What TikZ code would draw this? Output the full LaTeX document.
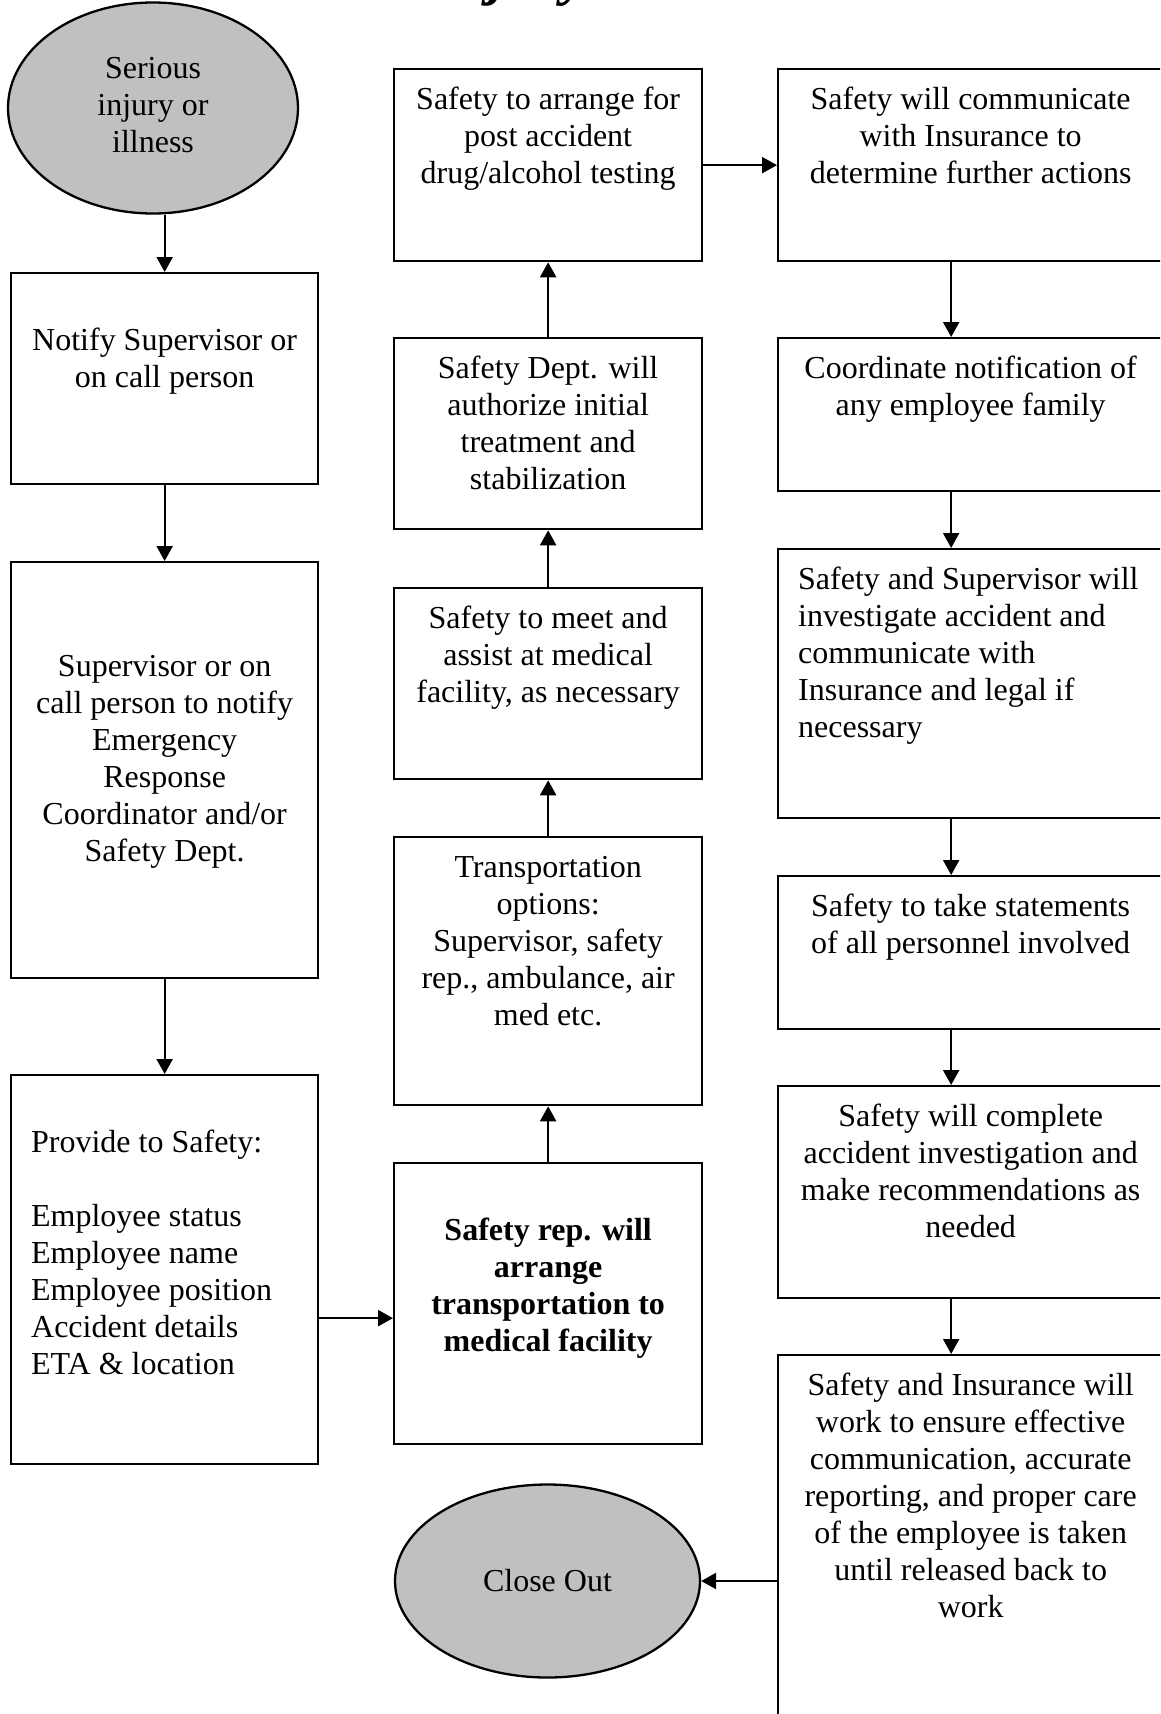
\documentclass[tikz,border=0pt]{standalone}
\usepackage{fontspec}
\setmainfont{Liberation Serif}
\usetikzlibrary{shapes.geometric,arrows.meta}

\definecolor{ovalgray}{RGB}{192,192,192}
\newcommand{\bodyfont}{\fontsize{32pt}{37pt}\selectfont}
\newcommand{\boxtext}[4]{\parbox[c][#2][t]{#1}{\vspace*{14pt}#3\strut#4}}
\newcommand{\ctr}{\centering}
\newcommand{\lft}{\raggedright\leftskip=20pt\relax}

\begin{document}
\begin{tikzpicture}[x=1pt,y=-1pt,every node/.style={font=\bodyfont},
  stepbox/.style={draw,line width=2.3pt,inner sep=0pt,anchor=north west},
  endoval/.style={draw,line width=2.3pt,ellipse,fill=ovalgray,inner sep=0pt},
  arr/.style={line width=2.3pt,-{Triangle[length=15pt,width=16pt]}}]
\path[use as bounding box,clip] (0,0) rectangle (1160,1714);

\node[font=\fontsize{60pt}{60pt}\selectfont\bfseries\itshape,anchor=base west] (title) at (429,-7) {Injury};

\node[endoval,minimum width=290pt,minimum height=211pt] (injury) at (153,108)
  {\raisebox{10pt}{\begin{tabular}{@{}c@{}}Serious\\injury or\\illness\end{tabular}}};
\node[stepbox] (notify) at (10,272) {\boxtext{307pt}{211pt}{\ctr}{\\Notify Supervisor or\\on call person}};
\node[stepbox] (callout) at (10,561) {\boxtext{307pt}{416pt}{\ctr}{\\\mbox{}\\Supervisor or on\\call person to notify\\Emergency\\Response\\Coordinator and/or\\Safety Dept.}};
\node[stepbox] (provide) at (10,1074) {\boxtext{307pt}{389pt}{\lft}{\\Provide to Safety:\\\mbox{}\\Employee status\\Employee name\\Employee position\\Accident details\\ETA \& location}};

\node[stepbox] (testing) at (393,68) {\boxtext{308pt}{192pt}{\ctr}{Safety to arrange for\\post accident\\drug/alcohol testing}};
\node[stepbox] (authorize) at (393,337) {\boxtext{308pt}{191pt}{\ctr}{Safety Dept. will\\authorize initial\\treatment and\\stabilization}};
\node[stepbox] (meet) at (393,587) {\boxtext{308pt}{191pt}{\ctr}{Safety to meet and\\assist at medical\\facility, as necessary}};
\node[stepbox] (options) at (393,836) {\boxtext{308pt}{268pt}{\ctr}{Transportation\\options:\\Supervisor, safety\\rep., ambulance, air\\med etc.}};
\node[stepbox] (arrange) at (393,1162) {\boxtext{308pt}{281pt}{\ctr\bfseries}{\\Safety rep. will\\arrange\\transportation to\\medical facility}};
\node[endoval,minimum width=305pt,minimum height=193pt] (close) at (547.5,1581) {Close Out};

\node[stepbox] (insurance) at (777,68) {\boxtext{385pt}{192pt}{\ctr}{Safety will communicate\\with Insurance to\\determine further actions}};
\node[stepbox] (family) at (777,337) {\boxtext{385pt}{153pt}{\ctr}{Coordinate notification of\\any employee family}};
\node[stepbox] (investigate) at (777,548) {\boxtext{385pt}{269pt}{\lft}{Safety and Supervisor will\\investigate accident and\\communicate with\\Insurance and legal if\\necessary}};
\node[stepbox] (statements) at (777,875) {\boxtext{385pt}{153pt}{\ctr}{Safety to take statements\\of all personnel involved}};
\node[stepbox] (complete) at (777,1085) {\boxtext{385pt}{212pt}{\ctr}{Safety will complete\\accident investigation and\\make recommendations as\\needed}};
\node[stepbox] (ensure) at (777,1354) {\boxtext{385pt}{400pt}{\ctr}{Safety and Insurance will\\work to ensure effective\\communication, accurate\\reporting, and proper care\\of the employee is taken\\until released back to\\work}};

\draw[arr] (injury.south -| notify.north) -- (notify.north);
\foreach \i/\j in {notify/callout, callout/provide, arrange/options, options/meet,%
            meet/authorize, authorize/testing, testing/insurance%
            }
    \draw[arr] (\i) -- (\j);
\foreach \i/\j in {insurance/family, family/investigate, investigate/statements,%
            statements/complete, complete/ensure%
            }
    \draw[arr] ([xshift=-19.5pt]\i.south) -- ([xshift=-19.5pt]\j.north);
\draw[arr] ([yshift=-48.5pt]provide.east) -- ([yshift=-14.5pt]arrange.west);
\draw[arr] (close.east -| ensure.west) -- (close.east);

\end{tikzpicture}
\end{document}
